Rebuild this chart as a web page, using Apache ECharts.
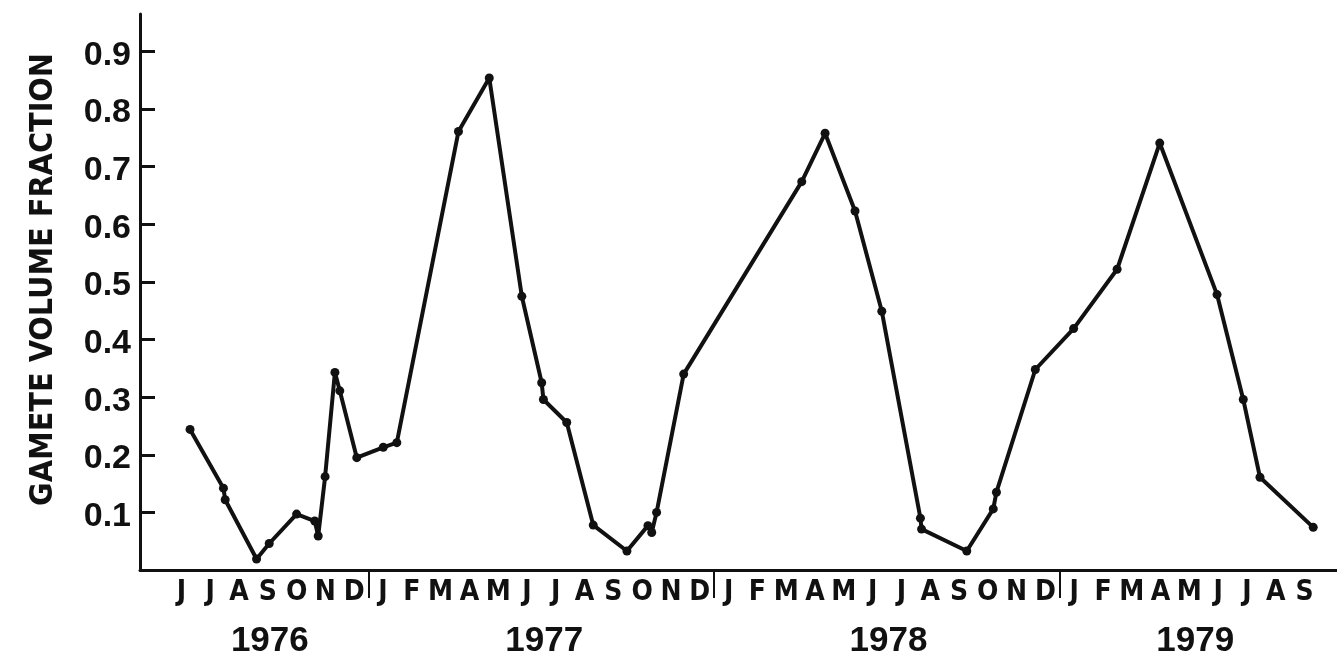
<!DOCTYPE html>
<html>
<head>
<meta charset="utf-8">
<script src="https://cdn.jsdelivr.net/npm/echarts@6/dist/echarts.min.js"></script>
<style>
html,body{margin:0;padding:0;background:#fff;}
#chart{width:1337px;height:659px;}
</style>
</head>
<body>
<div id="chart"></div>
<script>
// Month index: 0 = June 1976 (centre of month), 39 = September 1979
var monthLabels = ['J','J','A','S','O','N','D',
  'J','F','M','A','M','J','J','A','S','O','N','D',
  'J','F','M','A','M','J','J','A','S','O','N','D',
  'J','F','M','A','M','J','J','A','S'];
var yearLabels = ['1976','1977','1978','1979'];
var yearLabelPositions = [3.07, 12.6, 24.55, 35.2];
var yearBoundaries = [6.5, 18.5, 30.5];
var yTicks = [0.1,0.2,0.3,0.4,0.5,0.6,0.7,0.8,0.9];

var sampleMonths = [0.30, 1.46, 1.52, 2.61, 3.05, 4.00, 4.63, 4.75, 4.99, 5.33, 5.50, 6.09, 7.01, 7.48,
  9.62, 10.69, 11.82, 12.51, 12.57, 13.38, 14.30, 15.47, 16.20, 16.33, 16.50, 17.44,
  21.54, 22.35, 23.39, 24.32, 25.66, 25.70, 27.27, 28.19, 28.30, 29.65,
  30.98, 32.49, 33.97, 35.96, 36.87, 37.45, 39.30];
var gameteFraction = [0.244, 0.142, 0.122, 0.019, 0.046, 0.097, 0.085, 0.059, 0.162, 0.343, 0.311, 0.195, 0.213, 0.221,
  0.761, 0.854, 0.475, 0.325, 0.296, 0.256, 0.078, 0.033, 0.077, 0.065, 0.100, 0.340,
  0.674, 0.758, 0.623, 0.449, 0.090, 0.071, 0.033, 0.106, 0.135, 0.348,
  0.419, 0.522, 0.741, 0.478, 0.296, 0.161, 0.074];

var FONT_NUM = "'Liberation Sans', Arial, sans-serif";
var FONT_TXT = "'DejaVu Sans Condensed', 'Liberation Sans', sans-serif";
var INK = '#111';
var xMin = -1.4375, xMax = 40.125;

var chart = echarts.init(document.getElementById('chart'), null, {renderer:'canvas'});
var seriesData = sampleMonths.map(function(m, i){ return [m, gameteFraction[i]]; });

chart.setOption({
  backgroundColor: '#fff',
  animation: false,
  grid: {left: 140, right: 0, top: 14, bottom: 88, containLabel: false},
  xAxis: [{
    type: 'value', min: xMin, max: xMax,
    axisLine: {show: true, onZero: false, lineStyle: {color: INK, width: 3}},
    axisTick: {show: true, inside: false, length: 28, customValues: yearBoundaries,
      lineStyle: {color: INK, width: 2}},
    splitLine: {show: false},
    axisLabel: {show: true, customValues: monthLabels.map(function(_, i){return i;}),
      interval: 0, hideOverlap: false, margin: 9,
      fontFamily: FONT_TXT, fontWeight: 'bold', fontSize: 28, lineHeight: 28, color: INK,
      formatter: function(v){ return monthLabels[Math.round(v)] || ''; }}
  }, {
    type: 'value', min: xMin, max: xMax, position: 'bottom', offset: 45,
    axisLine: {show: false, onZero: false}, axisTick: {show: false}, splitLine: {show: false},
    axisLabel: {show: true, customValues: yearLabelPositions, interval: 0, hideOverlap: false,
      margin: 9, fontFamily: FONT_NUM, fontWeight: 'bold', fontSize: 35, lineHeight: 35, color: INK,
      formatter: function(v){
        var best = 0, d = 1e9;
        yearLabelPositions.forEach(function(p, i){ if (Math.abs(p - v) < d){ d = Math.abs(p - v); best = i; } });
        return yearLabels[best];
      }}
  }],
  yAxis: {
    type: 'value', min: 0, max: 0.965, interval: 0.1,
    name: 'GAMETE VOLUME FRACTION', nameLocation: 'middle', nameRotate: 90, nameGap: 80,
    nameTextStyle: {fontFamily: FONT_TXT, fontWeight: 'bold', fontSize: 32, color: INK,
      padding: [0, 0, 0, 25]},
    axisLine: {show: true, onZero: false, lineStyle: {color: INK, width: 3}},
    axisTick: {show: true, inside: true, length: 15, customValues: yTicks,
      lineStyle: {color: INK, width: 3}},
    splitLine: {show: false},
    axisLabel: {show: true, customValues: yTicks, margin: 9,
      fontFamily: FONT_NUM, fontWeight: 'bold', fontSize: 34, color: INK,
      verticalAlign: 'top', lineHeight: 8,
      formatter: function(v){ return v.toFixed(1); }}
  },
  series: [{
    type: 'line', data: seriesData,
    symbol: 'circle', symbolSize: 9, showSymbol: true,
    lineStyle: {color: INK, width: 4},
    itemStyle: {color: INK},
    z: 3
  }]
});
</script>
</body>
</html>
